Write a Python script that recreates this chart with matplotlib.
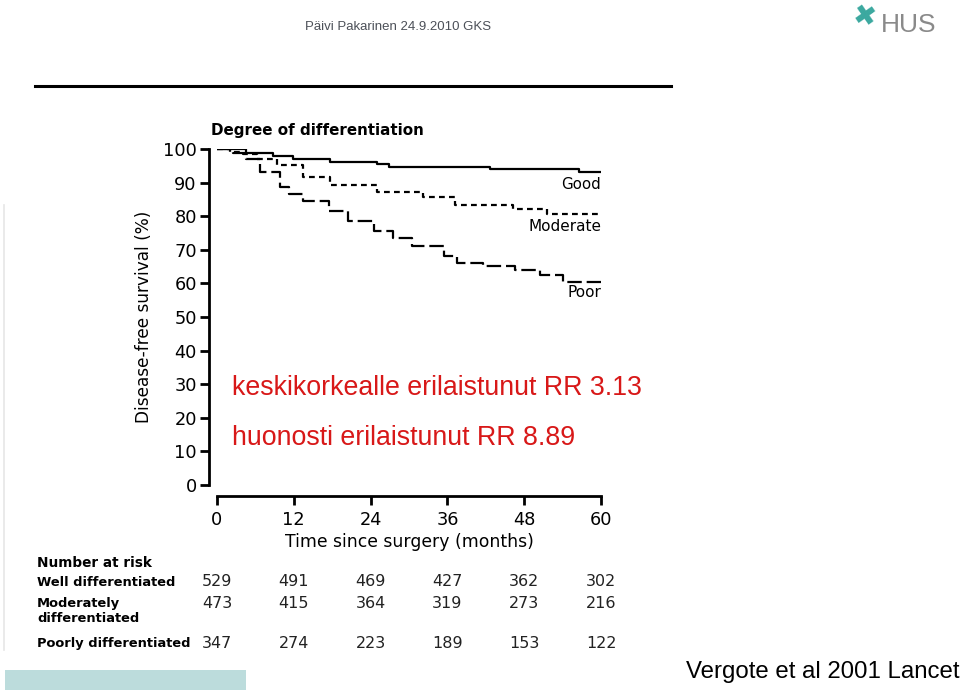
import matplotlib
matplotlib.use("Agg")
import matplotlib.pyplot as plt
import matplotlib.transforms as mtransforms
from matplotlib.lines import Line2D
from matplotlib.patches import Rectangle

# ---------------- data ----------------
good_t = [0, 4.6, 8.8, 11.9, 17.7, 25.0, 26.8, 42.7, 56.5, 60]
good_v = [100, 98.9, 98.0, 97.0, 96.2, 95.5, 94.6, 94.0, 93.3, 93.3]

mod_t = [0, 2.0, 4.0, 6.2, 9.3, 13.5, 17.7, 25.0, 32.2, 37.2, 46.3, 51.5, 60]
mod_v = [100, 99.2, 98.4, 96.9, 95.2, 91.8, 89.3, 87.3, 85.8, 83.3, 82.1, 80.7, 80.7]

poor_t = [0, 2.5, 4.5, 6.7, 9.8, 11.2, 13.5, 17.5, 20.5, 24.5, 27.5, 30.5,
          35.5, 37.5, 41.5, 46.5, 50.5, 54.0, 60]
poor_v = [100, 98.8, 97.0, 93.2, 88.8, 86.5, 84.5, 81.5, 78.5, 75.5, 73.5, 71.2,
          68.3, 66.0, 65.2, 64.0, 62.5, 60.3, 60.3]

curve_labels = ["Good", "Moderate", "Poor"]
x_ticks = [0, 12, 24, 36, 48, 60]
y_ticks = list(range(0, 101, 10))

risk_rows = ["Well differentiated", "Moderately\ndifferentiated", "Poorly differentiated"]
risk_well = [529, 491, 469, 427, 362, 302]
risk_mod = [473, 415, 364, 319, 273, 216]
risk_poor = [347, 274, 223, 189, 153, 122]

rr_lines = ["keskikorkealle erilaistunut RR 3.13", "huonosti erilaistunut RR 8.89"]

# ---------------- figure ----------------
W, H = 960, 692
fig = plt.figure(figsize=(W / 100, H / 100), dpi=100)
fig.patch.set_facecolor("white")

def fx(px):
    return px / W

def fy(py):
    return 1 - py / H

# header
fig.text(fx(305), fy(27), "Päivi Pakarinen 24.9.2010 GKS", fontsize=9.5,
         family="Liberation Sans", color="#4c5058", va="center", ha="left")
fig.add_artist(Line2D([fx(35), fx(671)], [fy(86), fy(86)], color="black", lw=2.2))
# logo
fig.text(fx(864), fy(17), "\u2716", fontsize=20, color="#3aa89f", rotation=-10,
         ha="center", va="center", family="DejaVu Sans")
fig.text(fx(881), fy(25), "HUS", fontsize=19, color="#8a8a8a",
         family="Liberation Sans", ha="left", va="center")

# faint left edge line
fig.add_artist(Line2D([fx(4), fx(4)], [fy(205), fy(650)], color="#e6e6e6", lw=1.2))

# bottom left teal band
fig.add_artist(Rectangle((fx(5), fy(690)), fx(241), fy(670) - fy(690),
                         transform=fig.transFigure, facecolor="#bcdcdc",
                         edgecolor="none"))

# citation
fig.text(fx(686), fy(672), "Vergote et al 2001 Lancet", fontsize=17.3,
         family="Liberation Sans", color="black", ha="left", va="center")

# ---------------- axes ----------------
ax = fig.add_axes([fx(217), fy(485), fx(601) - fx(217), fy(149) - fy(485)])
ax.set_xlim(0, 60)
ax.set_ylim(0, 100)

lw = 1.6
ax.plot(good_t, good_v, drawstyle="steps-post", color="black", lw=lw,
        solid_capstyle="butt")
ax.plot(mod_t, mod_v, drawstyle="steps-post", color="black", lw=lw,
        dashes=(2.6, 1.9), dash_capstyle="butt")
ax.plot(poor_t, poor_v, drawstyle="steps-post", color="black", lw=lw,
        dashes=(6.5, 2.2), dash_capstyle="butt")

lab_font = dict(family="DejaVu Sans", color="black", ha="right", va="center")
ax.text(60, good_v[-1] - 4, curve_labels[0], fontsize=10.8, **lab_font)
ax.text(60, mod_v[-1] - 3.8, curve_labels[1], fontsize=11.0, **lab_font)
ax.text(60, poor_v[-1] - 3.1, curve_labels[2], fontsize=11.0, **lab_font)

for s in ["top", "right"]:
    ax.spines[s].set_visible(False)
ax.spines["left"].set_position(("outward", 6))
ax.spines["bottom"].set_position(("outward", 8))
ax.spines["left"].set_linewidth(2)
ax.spines["bottom"].set_linewidth(2)
ax.spines["bottom"].set_bounds(0, 60)
ax.spines["left"].set_bounds(0, 100)

ax.set_xticks(x_ticks)
ax.set_yticks(y_ticks)
ax.set_xticklabels([str(t) for t in x_ticks])
ax.set_yticklabels([str(t) for t in y_ticks])
ax.tick_params(axis="both", length=6.5, width=2, labelsize=12.8, pad=2)
ax.tick_params(axis="x", pad=4)

ax.set_xlabel("Time since surgery (months)", fontsize=12.4, labelpad=3)
ax.set_ylabel("Disease-free survival (%)", fontsize=12.2, labelpad=7)

ax.text(-1.0, 105.5, "Degree of differentiation", fontsize=10.9,
        fontweight="bold", ha="left", va="center")

# red annotation
ax.text(2.3, 28.8, rr_lines[0], fontsize=19.3, family="Liberation Sans",
        color="#d81818", ha="left", va="center")
ax.text(2.3, 14.0, rr_lines[1], fontsize=19.3, family="Liberation Sans",
        color="#d81818", ha="left", va="center")

# ---------------- number at risk table ----------------
fig.text(fx(37), fy(563), "Number at risk", fontsize=9.8, fontweight="bold",
         ha="left", va="center")
row_y = [582, 603, 644]
row_label_y = [582, 611.5, 644]
for lbl, ly in zip(risk_rows, row_label_y):
    fig.text(fx(37), fy(ly), lbl, fontsize=9.4, fontweight="bold", ha="left",
             va="center", linespacing=1.2)

blend = mtransforms.blended_transform_factory(ax.transData, fig.transFigure)
for vals, ry in zip([risk_well, risk_mod, risk_poor], row_y):
    for t, v in zip(x_ticks, vals):
        ax.text(t, fy(ry), str(v), transform=blend, fontsize=11.5,
                ha="center", va="center", color="#222222", clip_on=False)

fig.savefig("out.png", dpi=100, facecolor="white")
